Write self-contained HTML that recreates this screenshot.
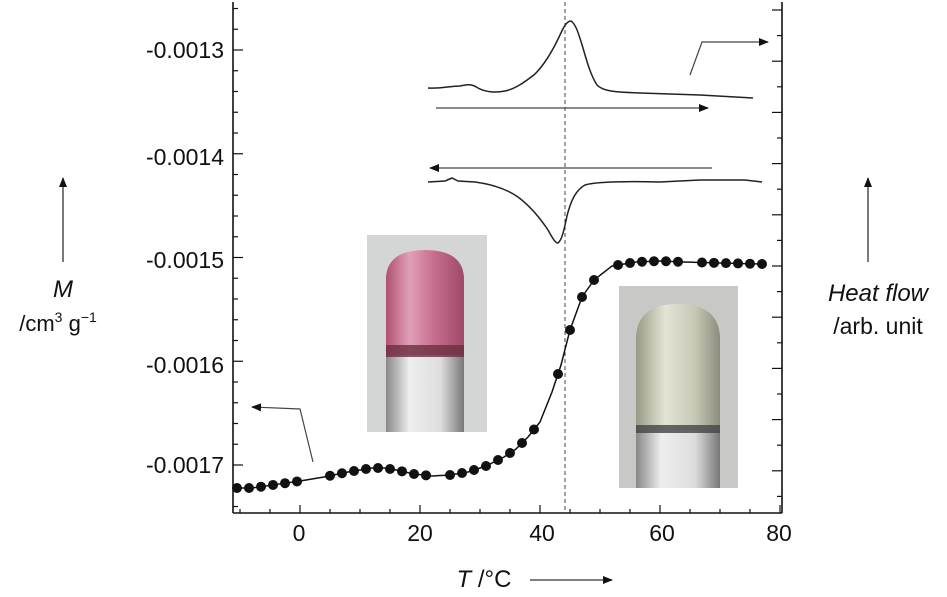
<!DOCTYPE html>
<html><head><meta charset="utf-8"><style>
html,body{margin:0;padding:0;background:#fff}
svg{display:block;font-family:"Liberation Sans",sans-serif}
</style></head><body>
<svg id="s" width="947" height="597" viewBox="0 0 947 597" xmlns="http://www.w3.org/2000/svg">
<defs>
<linearGradient id="pk" x1="0" x2="1"><stop offset="0" stop-color="#b05070"/><stop offset="0.3" stop-color="#e0a0b8"/><stop offset="0.6" stop-color="#c87090"/><stop offset="1" stop-color="#a04868"/></linearGradient>
<linearGradient id="gy" x1="0" x2="1"><stop offset="0" stop-color="#9a9a88"/><stop offset="0.35" stop-color="#e4e4d4"/><stop offset="0.7" stop-color="#c8c8b6"/><stop offset="1" stop-color="#8c8c7c"/></linearGradient>
<linearGradient id="gl" x1="0" x2="1"><stop offset="0" stop-color="#888"/><stop offset="0.3" stop-color="#eee"/><stop offset="0.7" stop-color="#ddd"/><stop offset="1" stop-color="#777"/></linearGradient>
<marker id="ah" markerWidth="10" markerHeight="8" refX="9" refY="4" orient="auto" markerUnits="userSpaceOnUse"><path d="M0,0 L10,4 L0,8 Z" fill="#111"/></marker>
</defs>
<rect x="367" y="235" width="120" height="197" fill="#d4d6d6"/>
<path d="M386,432 V280 Q386,250 425,250 Q464,250 464,280 V432 Z" fill="url(#gl)"/>
<path d="M386,355 V280 Q386,250 425,250 Q464,250 464,280 V355 Z" fill="url(#pk)"/>
<rect x="386" y="345" width="78" height="12" fill="#6a3040" opacity="0.8"/>
<rect x="619" y="286" width="119" height="202" fill="#c8c8c6"/>
<path d="M636,488 V340 Q636,304 678,304 Q720,304 720,340 V488 Z" fill="url(#gl)"/>
<path d="M636,430 V340 Q636,304 678,304 Q720,304 720,340 V430 Z" fill="url(#gy)"/>
<rect x="636" y="425" width="84" height="8" fill="#444" opacity="0.8"/>
<g stroke="#111" stroke-width="1.6" fill="none">
<line x1="233" y1="2" x2="233" y2="513"/>
<line x1="782" y1="2" x2="782" y2="513"/>
<line x1="233" y1="513" x2="782" y2="513"/>
</g>
<g id="ticks" stroke="#111" stroke-width="1.2"></g>
<line x1="565" y1="2" x2="565" y2="513" stroke="#444" stroke-width="1" stroke-dasharray="4,3"/>
<path d="M428,88 C440,89 450,86 460,86 C468,84 472,84 478,88 C485,92 495,93 505,91 C515,89 525,82 535,74 C545,64 553,50 560,35 C564,26 567,21 571,21 C576,24 579,35 583,48 C587,62 591,76 597,85 C603,91 612,92 640,93 L700,95 L753,98" fill="none" stroke="#222" stroke-width="1.5"/>
<path d="M428,182 L445,181 L452,178 L458,181 L475,182 C490,184 505,188 518,197 C530,206 540,218 548,230 C552,237 555,243 558,243 C562,240 564,230 567,216 C571,200 576,190 585,185 C595,182 620,181 660,182 L700,180 L745,180 L762,182" fill="none" stroke="#222" stroke-width="1.5"/>
<line x1="436" y1="108" x2="708" y2="108" stroke="#444" stroke-width="1.2" marker-end="url(#ah)"/>
<line x1="712" y1="168" x2="430" y2="168" stroke="#444" stroke-width="1.2" marker-end="url(#ah)"/>
<polyline points="690,75 702,42 768,42" fill="none" stroke="#444" stroke-width="1.2" marker-end="url(#ah)"/>
<polyline points="313,462 300,409 252,407" fill="none" stroke="#444" stroke-width="1.2" marker-end="url(#ah)"/>
<g id="data"></g>
<g font-size="23" fill="#111" text-anchor="end">
<text x="224" y="58">-0.0013</text>
<text x="224" y="165">-0.0014</text>
<text x="224" y="268">-0.0015</text>
<text x="224" y="373">-0.0016</text>
<text x="224" y="473">-0.0017</text>
</g>
<g font-size="23" fill="#111" text-anchor="middle">
<text x="299" y="541">0</text><text x="420" y="541">20</text><text x="542" y="541">40</text><text x="662" y="541">60</text><text x="779" y="541">80</text>
</g>
<text x="484" y="587" font-size="24" fill="#111" text-anchor="middle"><tspan font-style="italic">T</tspan> /°C</text>
<line x1="530" y1="580" x2="612" y2="580" stroke="#333" stroke-width="1.3" marker-end="url(#ah)"/>
<line x1="63" y1="262" x2="63" y2="178" stroke="#333" stroke-width="1.3" marker-end="url(#ah)"/>
<text x="63" y="297" font-size="24" font-style="italic" fill="#111" text-anchor="middle">M</text>
<text x="58" y="331" font-size="22" fill="#111" text-anchor="middle">/cm<tspan font-size="14" dy="-9">3</tspan><tspan dy="9"> g</tspan><tspan font-size="14" dy="-9">−1</tspan></text>
<line x1="868" y1="262" x2="868" y2="178" stroke="#333" stroke-width="1.3" marker-end="url(#ah)"/>
<text x="878" y="301" font-size="24" font-style="italic" fill="#111" text-anchor="middle">Heat flow</text>
<text x="878" y="334" font-size="23" fill="#111" text-anchor="middle">/arb. unit</text>
</svg>
<script>
var NS="http://www.w3.org/2000/svg";
function el(p,t,a){var e=document.createElementNS(NS,t);for(var k in a)e.setAttribute(k,a[k]);p.appendChild(e);return e;}
var tk=document.getElementById("ticks");
for(var T=-10;T<=80;T+=5){var x=300+6*T;if(x<234||x>781)continue;el(tk,"line",{x1:x,y1:513,x2:x,y2:T%20==0?505:509});}
for(var i=-2;i<25;i++){var y=50+i*20.75;if(y<4||y>510)continue;var maj=(i%5==0);
el(tk,"line",{x1:233,y1:y,x2:maj?243:238,y2:y});}
for(var y=10;y<510;y+=25.6){var mj=Math.round((y-10)/25.6)%2==0;el(tk,"line",{x1:782,y1:y,x2:mj?772:777,y2:y});}
var K=[[-11,488],[-8,488],[0,481],[4,477],[8,472],[12,468],[14,468],[16,470],[19,474],[22,476],[25,475],[28,472],[31,466],[34,457],[36,449],[38,437],[40,422],[42,392],[43.5,365],[45,330],[47,297],[49,280],[52,266],[56,262],[60,261],[64,262],[70,263],[77,264]];
function f(T){for(var i=0;i<K.length-1;i++){if(T<=K[i+1][0]){var a=K[i],b=K[i+1];return a[1]+(b[1]-a[1])*(T-a[0])/(b[0]-a[0]);}}return K[K.length-1][1];}
var g=document.getElementById("data");var pts=[];
for(var T=-10.5;T<=77;T+=0.5)pts.push((300+6*T)+","+f(T));
el(g,"polyline",{points:pts.join(" "),fill:"none",stroke:"#111","stroke-width":1.5});
var D=[-10.5,-8.5,-6.5,-4.5,-2.5,-0.5,5,7,9,11,13,15,17,19,21,25,27,29,31,33,35,37,39,43,45,47,49,53,55,57,59,61,63,67,69,71,73,75,77];
D.forEach(function(T){el(g,"circle",{cx:300+6*T,cy:f(T),r:5,fill:"#111"});});
</script>
</body></html>
